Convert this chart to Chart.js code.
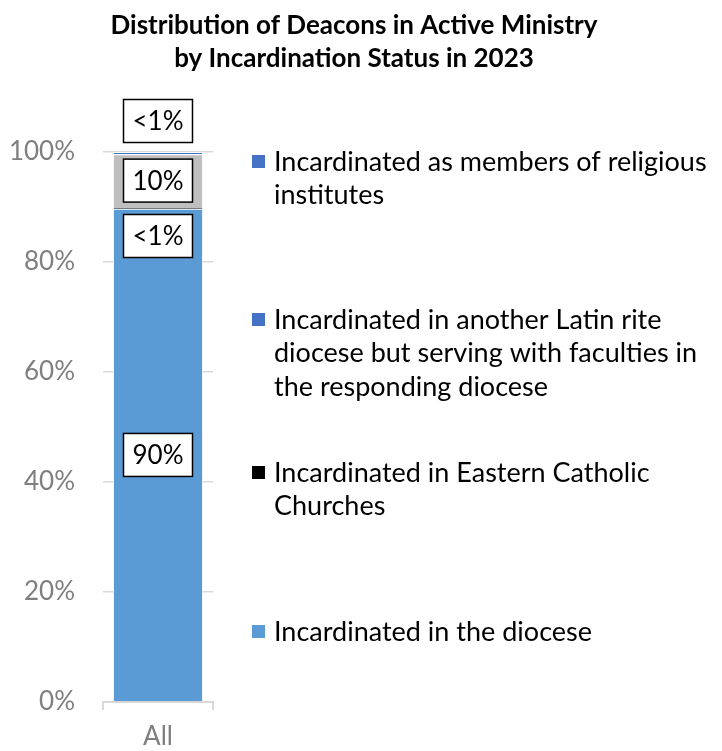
<!DOCTYPE html>
<html lang="en">
<head>
<meta charset="UTF-8">
<title>Deacons by Incardination Status</title>
<script src="https://cdn.jsdelivr.net/npm/chart.js"></script>
<style>
  body { margin: 0; background: #fff; }
  #wrap { width: 722px; height: 751px; }
</style>
</head>
<body>
<div id="wrap"><canvas id="deaconChart"></canvas></div>
<script>
const categories = ['All'];

// series, stacked from the bottom up
const seriesNames = [
  'Incardinated in the diocese',
  'Incardinated in Eastern Catholic\nChurches',
  'Incardinated in another Latin rite\ndiocese but serving with faculties in\nthe responding diocese',
  'Incardinated as members of religious\ninstitutes'
];
const inDiocese = [89.7];
const easternCatholic = [0.3];
const otherLatinRite = [9.6];
const religiousInstitutes = [0.4];

const titleLines = ['Distribution of Deacons in Active Ministry', 'by Incardination Status in 2023'];

const FONT = 'Lato, "DejaVu Sans", sans-serif';
const fmtPct = v => v < 1 ? '<1%' : Math.round(v) + '%';

// boxed value labels (white box, black outline)
const boxLabels = {
  id: 'boxLabels',
  afterDatasetsDraw(chart) {
    const ctx = chart.ctx;
    ctx.save();
    ctx.font = '26px ' + FONT;
    ctx.textAlign = 'center';
    ctx.textBaseline = 'middle';
    chart.data.datasets.forEach((ds, i) => {
      const meta = chart.getDatasetMeta(i);
      meta.data.forEach((bar, j) => {
        const p = bar.getProps(['x', 'y', 'base'], true);
        const txt = fmtPct(ds.data[j]);
        let cy = (p.y + p.base) / 2;
        if (ds.labelPos === 'above') cy = p.y - 31;
        if (ds.labelPos === 'below') cy = p.y + 29;
        const w = ctx.measureText(txt).width + 18;
        const h = 43;
        ctx.fillStyle = '#fff';
        ctx.fillRect(p.x - w / 2, cy - h / 2, w, h);
        ctx.lineWidth = 1.5;
        ctx.strokeStyle = '#000';
        ctx.strokeRect(p.x - w / 2, cy - h / 2, w, h);
        ctx.fillStyle = '#000';
        ctx.fillText(txt, p.x, cy + 1);
      });
    });
    ctx.restore();
  }
};

// title and the wrapped legend on the right
const sideText = {
  id: 'sideText',
  afterDraw(chart) {
    const ctx = chart.ctx;
    const area = chart.chartArea;
    ctx.save();
    ctx.fillStyle = '#000';
    ctx.textAlign = 'center';
    ctx.textBaseline = 'middle';
    ctx.font = 'bold 26px ' + FONT;
    titleLines.forEach((t, k) => ctx.fillText(t, chart.width / 2 - 7, 26 + k * 33));

    const firstLineY = [161, 319, 472, 631];
    const x = area.right + 39;
    ctx.font = '27px ' + FONT;
    ctx.textAlign = 'left';
    const order = chart.data.datasets.map((d, i) => i).reverse();
    order.forEach((di, k) => {
      const ds = chart.data.datasets[di];
      const y0 = firstLineY[k];
      ctx.fillStyle = ds.legendColor;
      ctx.fillRect(x, y0 - 6, 13, 13);
      ctx.fillStyle = '#000';
      ds.label.split('\n').forEach((line, n) => ctx.fillText(line, x + 22, y0 + 1 + n * 33.5));
    });
    ctx.restore();
  }
};

new Chart(document.getElementById('deaconChart'), {
  type: 'bar',
  data: {
    labels: categories,
    datasets: [
      { label: seriesNames[0], data: inDiocese, backgroundColor: '#5B9BD5', legendColor: '#5B9BD5', labelPos: 'center' },
      { label: seriesNames[1], data: easternCatholic, backgroundColor: '#000000', legendColor: '#000000', labelPos: 'below' },
      { label: seriesNames[2], data: otherLatinRite, backgroundColor: '#BFBFBF', legendColor: '#4472C4', labelPos: 'center' },
      { label: seriesNames[3], data: religiousInstitutes, backgroundColor: '#4472C4', legendColor: '#4472C4', labelPos: 'above' }
    ].map(d => Object.assign(d, { borderColor: '#fff', borderWidth: 1, barPercentage: 0.82, categoryPercentage: 1 }))
  },
  options: {
    responsive: true,
    maintainAspectRatio: false,
    animation: false,
    layout: { padding: { top: 152, right: 509, bottom: 0, left: 0 } },
    plugins: { legend: { display: false }, title: { display: false }, tooltip: { enabled: false } },
    scales: {
      x: {
        stacked: true,
        afterFit: s => { s.height = 49; },
        grid: { drawOnChartArea: false, drawTicks: true, tickLength: 8, color: '#D9D9D9', lineWidth: 2, offset: true },
        border: { display: true, color: '#D9D9D9', width: 2 },
        ticks: { color: '#7F7F7F', font: { family: FONT, size: 26 }, padding: 11 }
      },
      y: {
        stacked: true,
        min: 0,
        max: 100,
        afterFit: s => { s.width = 103; },
        grid: { color: '#D9D9D9', lineWidth: 1.5, drawTicks: false },
        border: { display: false },
        ticks: { stepSize: 20, color: '#7F7F7F', font: { family: FONT, size: 26 }, padding: 28, callback: v => v + '%' }
      }
    }
  },
  plugins: [boxLabels, sideText]
});
</script>
</body>
</html>
